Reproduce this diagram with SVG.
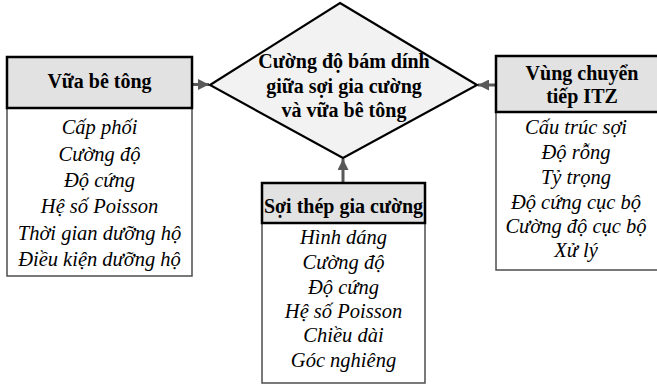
<svg xmlns="http://www.w3.org/2000/svg" width="657" height="385" viewBox="0 0 657 385">
<style>
.hdr{fill:#e2e2e2;stroke:#000;stroke-width:2.5}
.body{fill:#fff;stroke:#4d4d4d;stroke-width:1.5}
.dia{fill:#f2f2f2;stroke:#000;stroke-width:2.2}
.ht{font-family:"Liberation Serif","Times New Roman",serif;font-weight:bold;font-size:20px;text-anchor:middle;fill:#000}
.bt{font-family:"Liberation Serif","Times New Roman",serif;font-style:italic;font-size:20.5px;text-anchor:middle;fill:#000}
.conn{stroke:#595959;stroke-width:3;fill:none}
</style>
<defs>
<marker id="ah" viewBox="0 0 10 10" refX="10" refY="5" orient="auto" markerUnits="userSpaceOnUse" markerWidth="12" markerHeight="11">
<path d="M0,0 L10,5 L0,10 z" fill="#595959"/>
</marker>
</defs>
<rect width="657" height="385" fill="#fff"/>
<g id="connectors">
<line class="conn" x1="193" y1="84.5" x2="209" y2="84.5" marker-end="url(#ah)"/>
<line class="conn" x1="495" y1="85" x2="478" y2="85" marker-end="url(#ah)"/>
<line class="conn" x1="343" y1="182" x2="343" y2="159" marker-end="url(#ah)"/>
</g>
<g id="center">
<polygon class="dia" points="340,3 477,85 343,158 210,85"/>
<text class="ht" x="344" y="68">Cường độ bám dính</text>
<text class="ht" x="344" y="93">giữa sợi gia cường</text>
<text class="ht" x="344" y="117">và vữa bê tông</text>
</g>
<g id="vua-be-tong">
<rect class="body" x="7" y="108" width="185" height="168"/>
<rect class="hdr" x="7" y="57" width="185" height="51"/>
<text class="ht" x="99.5" y="88">Vữa bê tông</text>
<text class="bt" x="99.5" y="134">Cấp phối</text>
<text class="bt" x="99.5" y="160.5">Cường độ</text>
<text class="bt" x="99.5" y="187">Độ cứng</text>
<text class="bt" x="99.5" y="213">Hệ số Poisson</text>
<text class="bt" x="99.5" y="240">Thời gian dưỡng hộ</text>
<text class="bt" x="99.5" y="266">Điều kiện dưỡng hộ</text>
</g>
<g id="vung-chuyen-tiep">
<rect class="body" x="496" y="112" width="175" height="158"/>
<rect class="hdr" x="496" y="56" width="175" height="56"/>
<text class="ht" x="582" y="80">Vùng chuyển</text>
<text class="ht" x="582" y="103">tiếp ITZ</text>
<text class="bt" x="576" y="134">Cấu trúc sợi</text>
<text class="bt" x="576" y="158.5">Độ rỗng</text>
<text class="bt" x="576" y="184">Tỷ trọng</text>
<text class="bt" x="576" y="209">Độ cứng cục bộ</text>
<text class="bt" x="576" y="233">Cường độ cục bộ</text>
<text class="bt" x="576" y="257">Xử lý</text>
</g>
<g id="soi-thep">
<rect class="body" x="262" y="223" width="163" height="160"/>
<rect class="hdr" x="262" y="183" width="163" height="40"/>
<text class="ht" x="343.5" y="213">Sợi thép gia cường</text>
<text class="bt" x="343.5" y="244">Hình dáng</text>
<text class="bt" x="343.5" y="269">Cường độ</text>
<text class="bt" x="343.5" y="294">Độ cứng</text>
<text class="bt" x="343.5" y="318">Hệ số Poisson</text>
<text class="bt" x="343.5" y="342">Chiều dài</text>
<text class="bt" x="343.5" y="367">Góc nghiêng</text>
</g>
</svg>
